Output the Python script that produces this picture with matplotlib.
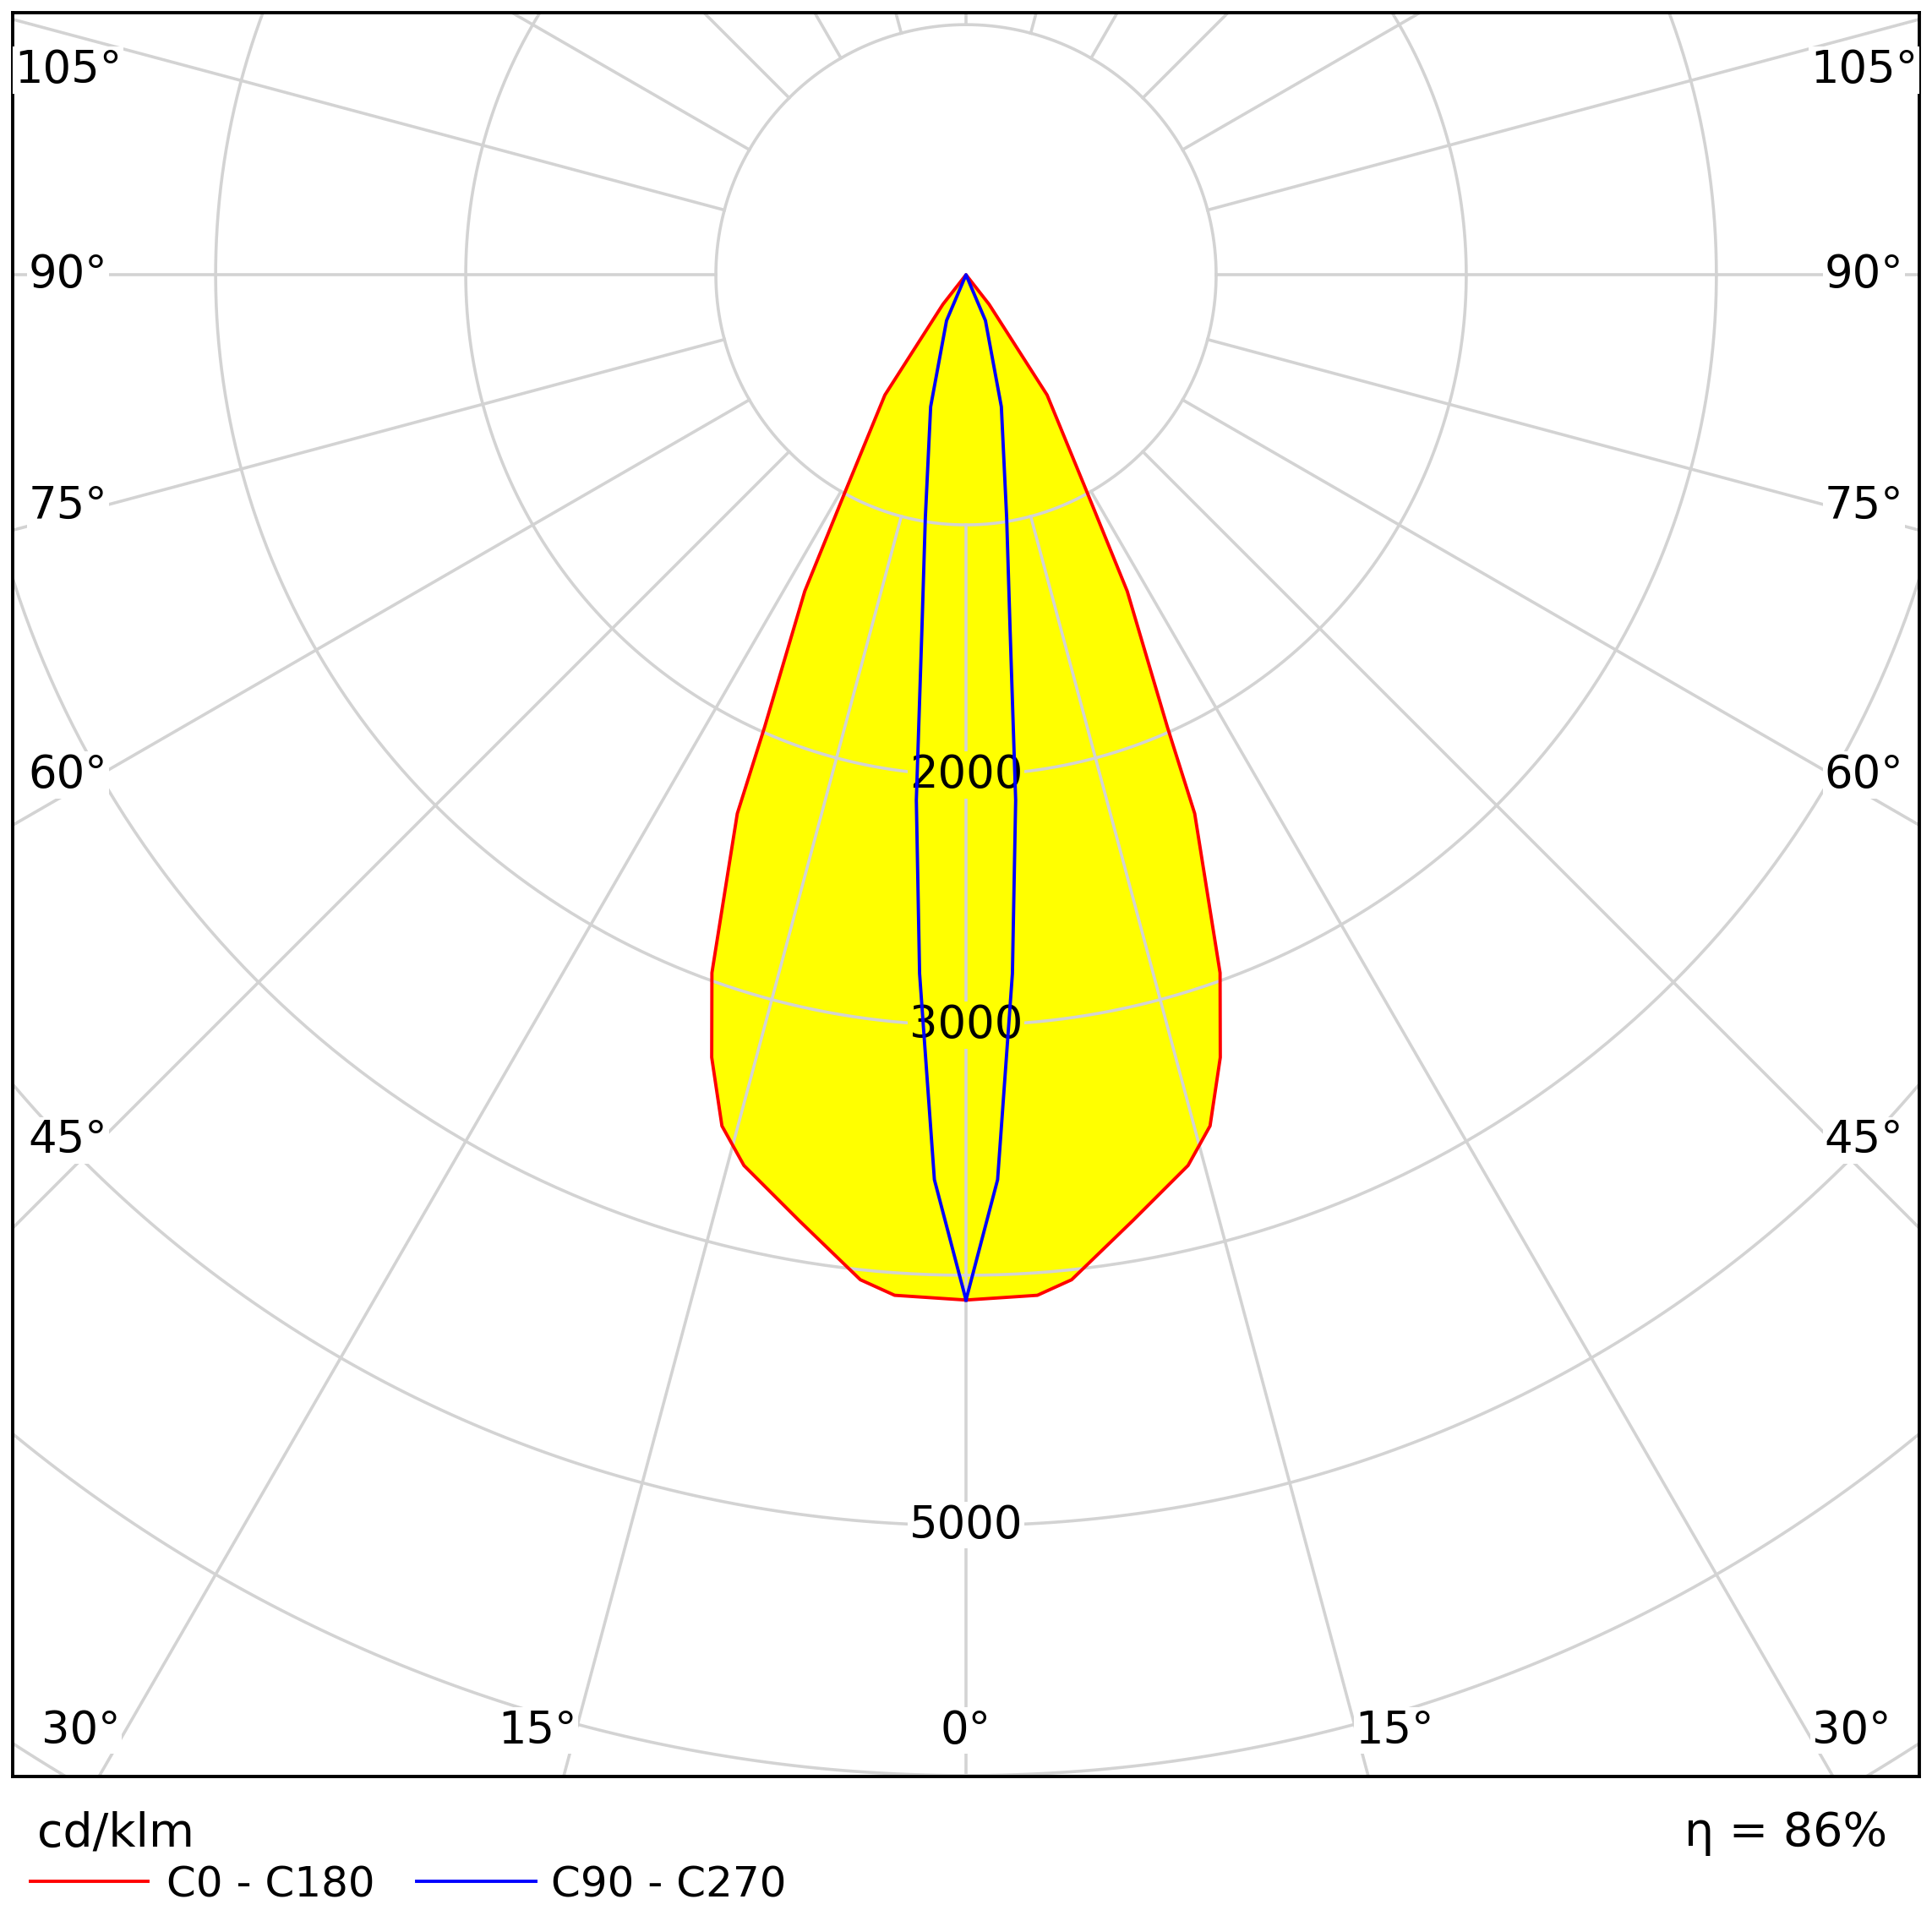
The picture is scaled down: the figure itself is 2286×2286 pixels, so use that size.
import numpy as np
import matplotlib
matplotlib.use("Agg")
import matplotlib.pyplot as plt

# Data (cd/klm vs angle from nadir, degrees)
c0_angles = [0, 4, 6, 10, 14, 16, 18, 20, 23, 24, 27, 29, 34, 38, 42]
c0_values = [4099, 4090, 4040, 3840, 3670, 3540, 3290, 2970, 2340, 1980, 1420, 1010, 580, 150, 0]
c90_angles = [0, 2, 3.8, 5.4, 7.1, 9.5, 15, 23, 30]
c90_values = [4099, 3620, 2800, 2110, 1425, 985, 546, 199, 0]
ring_values = [1000, 2000, 3000, 4000, 5000, 6000, 7000, 8000]
ring_labels = {2000: "2000", 3000: "3000", 5000: "5000"}
spoke_angles = list(range(0, 360, 15))
efficiency = "86%"
legend_names = ["C0 - C180", "C90 - C270"]

GRID = "#d3d3d3"
S = 1000.0

fig = plt.figure(figsize=(22.86, 22.86), dpi=100)
ax = fig.add_axes([10/1568, 1-1442/1568, 1548/1568, 1432/1568])
ax.set_xlim(-774/203, 774/203)
ax.set_ylim(-1219/203, 213/203)
ax.set_xticks([]); ax.set_yticks([])
for s in ax.spines.values():
    s.set_linewidth(2.8)

def curve(angles, values):
    a = np.radians(np.array(angles, float)); r = np.array(values, float) / S
    x = r * np.sin(a); y = -r * np.cos(a)
    X = np.concatenate([x, -x[::-1]]); Y = np.concatenate([y, y[::-1]])
    return X, Y

X0, Y0 = curve(c0_angles, c0_values)
X9, Y9 = curve(c90_angles, c90_values)
ax.fill(X0, Y0, color="#ffff00", zorder=1, lw=0)

t = np.linspace(0, 2*np.pi, 720)
for rv in ring_values:
    ax.plot(rv/S*np.cos(t), rv/S*np.sin(t), color=GRID, lw=2.6, zorder=2)
for a in spoke_angles:
    ar = np.radians(a)
    ax.plot([np.sin(ar), 9*np.sin(ar)], [-np.cos(ar), -9*np.cos(ar)], color=GRID, lw=2.6, zorder=2)

ax.plot(X0, Y0, color="red", lw=2.8, zorder=4)
ax.plot(X9, Y9, color="#0000ff", lw=2.8, zorder=5)

fs = 38
for rv, txt in ring_labels.items():
    inside = rv < 4099
    ax.text(0, -rv/S, txt, ha="center", va="center", fontsize=fs, zorder=3 if inside else 6,
            bbox=dict(facecolor="#ffff00" if inside else "white", edgecolor="none", pad=1))

side = {105: 0.818, 90: 0.0, 75: -0.926, 60: -2.0, 45: -3.46}
for ang, yy in side.items():
    for sx in (-1, 1):
        ax.text(sx*3.59, yy, f"{ang}°", ha="center", va="center", fontsize=fs, zorder=6,
                bbox=dict(facecolor="white", edgecolor="none", pad=1))
bottom = {0: 0.0, 15: 1.714, 30: 3.54}
for ang, xx in bottom.items():
    for sx in ((1,) if ang == 0 else (-1, 1)):
        ax.text(sx*xx, -5.82, f"{ang}°", ha="center", va="center", fontsize=fs, zorder=6,
                bbox=dict(facecolor="white", edgecolor="none", pad=1))

fig.text(30/1568, 1-1488/1568, "cd/klm", fontsize=40, va="center", ha="left")
fig.text(1532/1568, 1-1488/1568, "η = " + efficiency, fontsize=40, va="center", ha="right")
for (x0, x1, xt, col, name) in [(25, 120, 135, "red", legend_names[0]), (338, 435, 447, "#0000ff", legend_names[1])]:
    fig.add_artist(plt.Line2D([x0/1568, x1/1568], [1-1527/1568]*2, color=col, lw=2.8))
    fig.text(xt/1568, 1-1530/1568, name, fontsize=36, va="center", ha="left")

fig.savefig("out.png", dpi=100, facecolor="white")
